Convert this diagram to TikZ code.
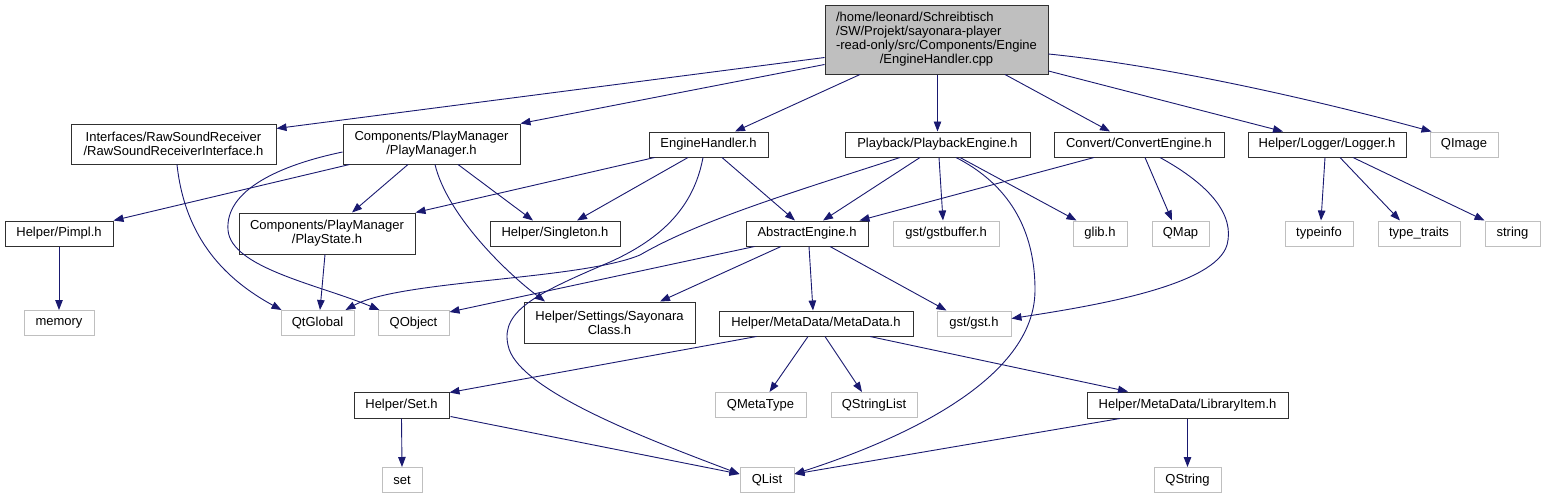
\documentclass[tikz,border=0pt]{standalone}
\usepackage{fontspec}
\setmainfont{Liberation Sans}
\usetikzlibrary{arrows.meta,calc}
\definecolor{edgeblue}{HTML}{191970}
\definecolor{sysgray}{HTML}{BFBFBF}
\definecolor{rootgray}{HTML}{BFBFBF}
\definecolor{docborder}{HTML}{303030}
\newcommand\dxfont{\fontsize{13}{14}\selectfont}
\begin{document}
\begin{tikzpicture}[x=1pt,y=-1pt,
  doc/.style={draw=docborder, line width=1pt, fill=white, inner sep=0pt, font=\dxfont, align=center},
  sys/.style={draw=sysgray, line width=1pt, fill=white, inner sep=0pt, font=\dxfont, minimum height=25pt},
  e/.style={draw=edgeblue, line width=0.9pt, -{Triangle[length=10pt,width=7.5pt]}}]
\fill[white] (0,0) rectangle (1545,499);
\useasboundingbox (0,0) rectangle (1545,499);
% nodes
\node[doc,fill=rootgray,minimum width=223pt,minimum height=69pt] (root) at (936.5,39.5)
  {\begin{tabular}{@{}l@{}}/home/leonard/Schreibtisch\\/SW/Projekt/sayonara-player\\-read-only/src/Components/Engine\\\multicolumn{1}{@{}c@{}}{/EngineHandler.cpp}\end{tabular}};
\node[doc,minimum width=205pt,minimum height=40pt] (raw) at (173.5,144) {Interfaces/RawSoundReceiver\\/RawSoundReceiverInterface.h};
\node[doc,minimum width=177pt,minimum height=40pt] (pm) at (431.5,144) {Components/PlayManager\\/PlayManager.h};
\node[doc,minimum width=119pt,minimum height=25pt] (eh) at (708.5,144.5) {EngineHandler.h};
\node[doc,minimum width=185pt,minimum height=25pt] (pb) at (937.5,144.5) {Playback/PlaybackEngine.h};
\node[doc,minimum width=170pt,minimum height=25pt] (ce) at (1139,144.5) {Convert/ConvertEngine.h};
\node[doc,minimum width=158pt,minimum height=25pt] (lg) at (1327,144.5) {Helper/Logger/Logger.h};
\node[sys,minimum width=68pt] (qimage) at (1464,144.5) {QImage};
\node[doc,minimum width=108pt,minimum height=25pt] (pimpl) at (59,233.5) {Helper/Pimpl.h};
\node[doc,minimum width=176pt,minimum height=41pt] (ps) at (327,233.5) {Components/PlayManager\\/PlayState.h};
\node[doc,minimum width=130pt,minimum height=25pt] (singleton) at (555,233.5) {Helper/Singleton.h};
\node[doc,minimum width=122pt,minimum height=25pt] (ae) at (807,233.5) {AbstractEngine.h};
\node[sys,minimum width=106pt] (gstbuffer) at (946,233.5) {gst/gstbuffer.h};
\node[sys,minimum width=54pt] (glib) at (1100,233.5) {glib.h};
\node[sys,minimum width=57pt] (qmap) at (1180.5,233.5) {QMap};
\node[sys,minimum width=68pt] (typeinfo) at (1319,233.5) {typeinfo};
\node[sys,minimum width=82pt] (typetraits) at (1419,233.5) {type\_traits};
\node[sys,minimum width=55pt] (string) at (1512.5,233.5) {string};
\node[sys,minimum width=70pt] (memory) at (59,323) {memory};
\node[sys,minimum width=73pt] (qtglobal) at (317.5,323) {QtGlobal};
\node[sys,minimum width=71pt] (qobject) at (413.5,323) {QObject};
\node[doc,minimum width=171pt,minimum height=41pt] (sayonara) at (609.5,322.5) {Helper/Settings/Sayonara\\Class.h};
\node[doc,minimum width=194pt,minimum height=25pt] (metadata) at (816,323.5) {Helper/MetaData/MetaData.h};
\node[sys,minimum width=74pt] (gsth) at (974,323.5) {gst/gst.h};
\node[doc,minimum width=95pt,minimum height=26pt] (seth) at (401.5,405) {Helper/Set.h};
\node[sys,minimum width=91pt] (qmetatype) at (760.5,405) {QMetaType};
\node[sys,minimum width=86pt] (qstringlist) at (874,405) {QStringList};
\node[doc,minimum width=201pt,minimum height=26pt] (lib) at (1187.5,405) {Helper/MetaData/LibraryItem.h};
\node[sys,minimum width=40pt] (set) at (402,480) {set};
\node[sys,minimum width=54pt] (qlist) at (767,480) {QList};
\node[sys,minimum width=67pt] (qstring) at (1187.5,480) {QString};
% edges from root
\draw[e] ($(root.west)+(0,18)$) -- ($(raw.north east)+(0,5)$);
\draw[e] ($(root.west)+(0,25)$) -- (pm.north east);
\draw[e] ($(root.south)+(-76.5,0)$) -- ($(eh.north)+(26.5,0)$);
\draw[e] ($(root.south)+(1,0)$) -- (pb.north);
\draw[e] ($(root.south)+(68.5,0)$) -- ($(ce.north)+(-29,0)$);
\draw[e] ($(root.east)+(0,31.5)$) -- ($(lg.north)+(-44,0)$);
\draw[e] ($(root.east)+(0,14.5)$) .. controls +(120,12) and +(-110,-30) .. ($(qimage.north west)+(2,0)$);
% raw
\draw[e] ($(raw.south)+(3.5,0)$) .. controls +(8,75) and +(-55,-30) .. ($(qtglobal.north west)+(1,0)$);
% playmanager
\draw[e] ($(pm.south west)+(7,0)$) -- (pimpl.north east);
\draw[e] ($(pm.south)+(-23.5,0)$) -- ($(ps.north)+(25,0)$);
\draw[e] ($(pm.south)+(26.5,0)$) -- ($(singleton.north)+(-22,0)$);
\draw[e] ($(pm.south)+(3.5,0)$) .. controls +(12,50) and +(-40,-30) .. ($(sayonara.north)+(-64.5,0)$);
\draw[e] ($(pm.west)+(0,8)$) .. controls (280,165) and (225,190) .. (228,230) .. controls (231,268) and (320,285) .. ($(qobject.north west)+(2,0)$);
% enginehandler
\draw[e] ($(eh.south west)+(6,0)$) -- (ps.north east);
\draw[e] ($(eh.south)+(-20.5,0)$) -- ($(singleton.north)+(22,0)$);
\draw[e] ($(eh.south)+(13.5,0)$) -- ($(ae.north)+(-12,0)$);
\draw[e] ($(eh.south)+(-5.5,0)$) .. controls (695,200) and (670,235) .. (610,262) .. controls (540,292) and (500,310) .. (508,345) .. controls (516,390) and (650,440) .. ($(qlist.west)+(0,-6)$);
% playback
\draw[e] ($(pb.south)+(-17.5,0)$) -- ($(ae.north)+(16,0)$);
\draw[e] ($(pb.south)+(1.5,0)$) -- ($(gstbuffer.north)+(-3,0)$);
\draw[e] ($(pb.south)+(22.5,0)$) -- ($(glib.north west)+(4,0)$);
\draw[e] ($(pb.south)+(18.5,0)$) .. controls (1000,180) and (1035,220) .. (1035,290) .. controls (1035,380) and (900,440) .. ($(qlist.east)+(0,-6)$);
\draw[e] ($(pb.south)+(-37.5,0)$) .. controls (800,190) and (700,220) .. (640,255) .. controls (580,280) and (400,280) .. ($(qtglobal.north east)+(-9,0)$);
% convert
\draw[e] ($(ce.south)+(-45,0)$) -- ($(ae.north east)+(-9,0)$);
\draw[e] ($(ce.south)+(6,0)$) -- ($(qmap.north)+(-8.5,0)$);
\draw[e] ($(ce.south)+(21,0)$) .. controls (1210,185) and (1235,215) .. (1227,245) .. controls (1215,285) and (1100,305) .. ($(gsth.east)+(0,-5)$);
% logger
\draw[e] ($(lg.south)+(-2,0)$) -- ($(typeinfo.north)+(2,0)$);
\draw[e] ($(lg.south)+(13,0)$) -- ($(typetraits.north)+(-19,0)$);
\draw[e] ($(lg.south)+(26,0)$) -- (string.north west);
% abstract engine
\draw[e] ($(ae.south west)+(9,0)$) -- ($(qobject.north east)+(0,2)$);
\draw[e] ($(ae.south)+(-26,0)$) -- ($(sayonara.north)+(50.5,0)$);
\draw[e] ($(ae.south)+(2,0)$) -- ($(metadata.north)+(-3,0)$);
\draw[e] ($(ae.south)+(23,0)$) -- ($(gsth.north west)+(10,0)$);
% others
\draw[e] ($(ps.south)+(-2,0)$) -- ($(qtglobal.north)+(2.5,0)$);
\draw[e] (pimpl.south) -- (memory.north);
\draw[e] ($(metadata.south west)+(38,0)$) -- ($(seth.north east)+(0,1)$);
\draw[e] ($(metadata.south)+(-8,0)$) -- ($(qmetatype.north)+(9,0)$);
\draw[e] ($(metadata.south)+(9,0)$) -- ($(qstringlist.north)+(-12,0)$);
\draw[e] ($(metadata.south)+(54,0)$) -- ($(lib.north)+(-59.5,0)$);
\draw[e] (seth.south) -- (set.north);
\draw[e] ($(seth.south east)+(1,-2)$) -- ($(qlist.west)+(0,-6)$);
\draw[e] ($(lib.south)+(-67.5,0)$) -- ($(qlist.east)+(0,-6)$);
\draw[e] (lib.south) -- (qstring.north);
\end{tikzpicture}
\end{document}
